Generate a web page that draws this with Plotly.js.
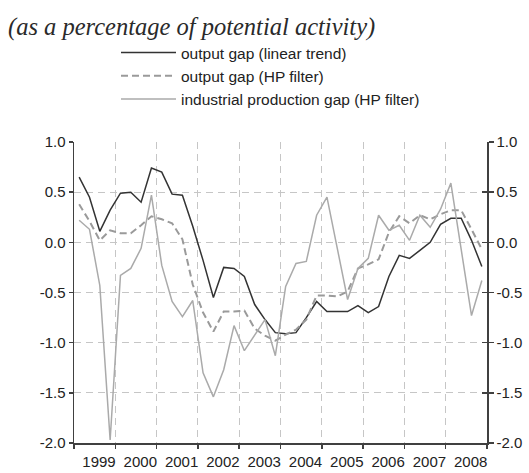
<!DOCTYPE html>
<html>
<head>
<meta charset="utf-8">
<script src="https://cdn.plot.ly/plotly-3.0.1.min.js"></script>
<style>
html,body{margin:0;padding:0;background:#fff;}
#chart{width:529px;height:473px;}
</style>
</head>
<body>
<div id="chart"></div>
<script>
// Years covered (quarterly data, 1999Q1 - 2008Q4)
const years = [1999, 2000, 2001, 2002, 2003, 2004, 2005, 2006, 2007, 2008];
const quarters = [];
years.forEach(y => { for (let q = 1; q <= 4; q++) quarters.push(y + 'Q' + q); });

// Output gap (linear trend)
const outputGapLinear = [
  0.65, 0.45, 0.11, 0.32, 0.49, 0.50, 0.40, 0.74, 0.70, 0.48,
  0.47, 0.16, -0.18, -0.55, -0.25, -0.26, -0.34, -0.62, -0.77, -0.90,
  -0.91, -0.90, -0.75, -0.59, -0.69, -0.69, -0.69, -0.63, -0.70, -0.64,
  -0.34, -0.13, -0.16, -0.08, 0.00, 0.18, 0.24, 0.24, 0.02, -0.24
];
// Output gap (HP filter)
const outputGapHP = [
  0.38, 0.21, 0.02, 0.12, 0.09, 0.09, 0.17, 0.26, 0.23, 0.19,
  0.03, -0.42, -0.70, -0.89, -0.69, -0.69, -0.68, -0.86, -0.93, -0.98,
  -0.92, -0.87, -0.77, -0.53, -0.53, -0.54, -0.49, -0.26, -0.22, -0.17,
  0.10, 0.26, 0.19, 0.27, 0.23, 0.28, 0.32, 0.32, 0.13, -0.07
];
// Industrial production gap (HP filter)
const industrialGapHP = [
  0.22, 0.13, -0.43, -1.97, -0.33, -0.26, -0.06, 0.47, -0.23, -0.59,
  -0.74, -0.58, -1.30, -1.54, -1.27, -0.83, -1.08, -0.93, -0.77, -1.13,
  -0.44, -0.21, -0.19, 0.27, 0.45, -0.06, -0.57, -0.26, -0.16, 0.27,
  0.12, 0.17, 0.02, 0.27, 0.15, 0.33, 0.59, -0.07, -0.73, -0.38
];

const seriesNames = [
  'output gap (linear trend)',
  'output gap (HP filter)',
  'industrial production gap (HP filter)'
];
const titleText = '(as a percentage of potential activity)';

const yTickVals = [1.0, 0.5, 0.0, -0.5, -1.0, -1.5, -2.0];
const yTickText = ['1.0', '0.5', '0.0', '-0.5', '-1.0', '-1.5', '-2.0'];
const xTickVals = [1999, 2000, 2001, 2002, 2003, 2004, 2005, 2006, 2007, 2008, 2009];
const xTickText = ['1999', '2000', '2001', '2002', '2003', '2004', '2005', '2006', '2007', '2008', ''];

// quarter label -> position at the middle of the quarter
const xPos = quarters.map(s => {
  const y = parseInt(s.slice(0, 4), 10);
  const q = parseInt(s.slice(5), 10);
  return y + (q - 0.5) / 4;
});

const W = 529, H = 473;
const FONT = 'Liberation Sans, Arial, sans-serif';
const AXC = '#404040';
const GRIDC = '#c6c6c6';

const traces = [
  {x: xPos, y: outputGapLinear, name: seriesNames[0], type: 'scatter', mode: 'lines',
   line: {color: '#333333', width: 1.5}},
  {x: xPos, y: outputGapHP, name: seriesNames[1], type: 'scatter', mode: 'lines',
   line: {color: '#9a9a9a', width: 2, dash: '7px,4px'}},
  {x: xPos, y: industrialGapHP, name: seriesNames[2], type: 'scatter', mode: 'lines',
   line: {color: '#aaaaaa', width: 1.5}},
  // invisible copies so that the right-hand (mirror) axes are drawn
  {x: xPos, y: outputGapLinear, yaxis: 'y2', type: 'scatter', mode: 'lines',
   line: {color: 'rgba(0,0,0,0)', width: 0}, showlegend: false, hoverinfo: 'skip'},
  {x: xPos, y: outputGapLinear, yaxis: 'y3', type: 'scatter', mode: 'lines',
   line: {color: 'rgba(0,0,0,0)', width: 0}, showlegend: false, hoverinfo: 'skip'}
];

const layout = {
  width: W, height: H,
  paper_bgcolor: '#fff', plot_bgcolor: '#fff',
  margin: {l: 74, r: 42.3, t: 141.7, b: 29.7, pad: 0, autoexpand: false},
  font: {family: FONT, size: 15, color: '#222'},
  showlegend: true,
  title: {
    text: titleText,
    font: {family: 'Liberation Serif, Times New Roman, serif', size: 24.5, color: '#2a2a2a', style: 'italic'},
    xref: 'container', yref: 'container',
    x: 8 / W, xanchor: 'left',
    y: 1 - 26 / H, yanchor: 'middle'
  },
  legend: {
    xref: 'container', yref: 'container',
    x: 116 / W, xanchor: 'left',
    y: 1 - 36 / H, yanchor: 'top',
    bgcolor: 'rgba(0,0,0,0)', borderwidth: 0,
    itemwidth: 55,
    font: {family: FONT, size: 15.5, color: '#222'},
    tracegroupgap: 0
  },
  xaxis: {
    range: [1999, 2009], type: 'linear', automargin: false,
    tickmode: 'array', tickvals: xTickVals, ticktext: xTickText,
    ticklabelshift: 25, tickangle: 0,
    ticks: 'outside', ticklen: 4, tickwidth: 1.5, tickcolor: AXC,
    showline: true, linecolor: AXC, linewidth: 1.5,
    showgrid: true, gridcolor: GRIDC, gridwidth: 1, griddash: '7px,5px',
    zeroline: false, fixedrange: true,
    tickfont: {family: FONT, size: 15, color: '#222'}
  },
  yaxis: {
    range: [-2, 1], automargin: false,
    tickmode: 'array', tickvals: yTickVals, ticktext: yTickText,
    ticks: 'outside', ticklen: 4, tickwidth: 1.5, tickcolor: AXC,
    showline: true, linecolor: AXC, linewidth: 1.5,
    showgrid: true, gridcolor: GRIDC, gridwidth: 1, griddash: '7px,5px',
    zeroline: false, fixedrange: true,
    tickfont: {family: FONT, size: 15, color: '#222'}
  },
  yaxis2: {
    overlaying: 'y', side: 'right', anchor: 'x', automargin: false,
    range: [-2, 1],
    tickmode: 'array', tickvals: yTickVals, ticktext: yTickText,
    ticks: 'outside', ticklen: 5, tickwidth: 1.5, tickcolor: AXC,
    showline: true, linecolor: AXC, linewidth: 1.5,
    showgrid: false, zeroline: false, fixedrange: true,
    tickfont: {family: FONT, size: 15, color: '#222'}
  },
  yaxis3: {
    overlaying: 'y', side: 'right', anchor: 'x', automargin: false,
    range: [-2, 1],
    tickmode: 'array', tickvals: yTickVals, ticktext: yTickText,
    ticks: 'inside', ticklen: 5, tickwidth: 1.5, tickcolor: AXC,
    showticklabels: false, showline: false,
    showgrid: false, zeroline: false, fixedrange: true
  }
};

Plotly.newPlot('chart', traces, layout, {displayModeBar: false, staticPlot: true});
</script>
</body>
</html>
